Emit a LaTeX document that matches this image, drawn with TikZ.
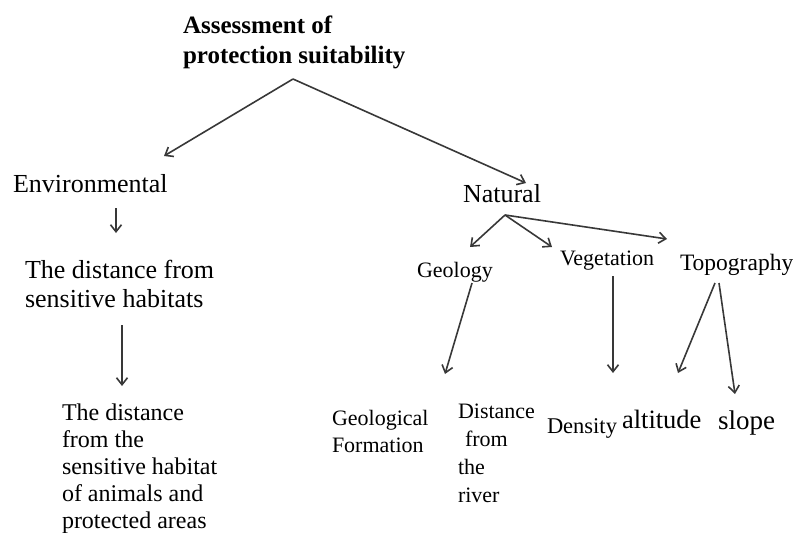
\documentclass[tikz,border=0pt]{standalone}
\usepackage{fontspec}
\setmainfont{Liberation Serif}
\usetikzlibrary{arrows.meta}
\begin{document}
\begin{tikzpicture}[x=1pt,y=-1pt,
  lbl/.style={inner sep=0pt,outer sep=0pt,anchor=base west,align=left,text=black},
  arr/.style={draw=black!78,line width=1.6pt,-{Straight Barb[length=7pt,width=11pt,line width=1.6pt]}},
  fs/.style={font=\fontsize{#1}{#1}\selectfont}]
\useasboundingbox (0,0) rectangle (793,533);
% texts (base anchor = baseline of the last line)
\node[lbl,font=\bfseries\fontsize{25}{30}\selectfont] (title) at (183,63) {Assessment of\\protection suitability};
\node[lbl,fs=26] (env) at (13,192) {Environmental};
\node[lbl,font=\fontsize{26}{29}\selectfont] (dist) at (25,307) {The distance from\\sensitive habitats};
\node[lbl,font=\fontsize{24}{27}\selectfont] (habitat) at (62,528) {The distance\\from the\\sensitive habitat\\of animals and\\protected areas};
\node[lbl,fs=26] (nat) at (463,202) {Natural};
\node[lbl,fs=22] (geo) at (417,277) {Geology};
\node[lbl,fs=22] (veg) at (560,265) {Vegetation};
\node[lbl,fs=23.5] (topo) at (680,270) {Topography};
\node[lbl,font=\fontsize{22}{27}\selectfont] (geoform) at (332,452) {Geological\\Formation};
\node[lbl,font=\fontsize{22}{27.7}\selectfont] (river) at (458,502) {Distance\\\hspace*{7pt}from\\the\\river};
\node[lbl,fs=22.5] (dens) at (547,433) {Density};
\node[lbl,fs=26.5] (alt) at (622,428) {altitude};
\node[lbl,fs=27] (slope) at (718,429) {slope};
% connector end points
\coordinate (tA) at (293,79);
\coordinate (envIn) at (164,156);
\coordinate (natIn) at (526,183);
\coordinate (envOut) at (116,208);
\coordinate (distIn) at (116,233);
\coordinate (distOut) at (122,325);
\coordinate (habIn) at (122,386);
\coordinate (natOut) at (505,215);
\coordinate (geoIn) at (470,247);
\coordinate (vegIn) at (552,247);
\coordinate (topoIn) at (667,239);
\coordinate (geoOut) at (472,283);
\coordinate (formIn) at (445,374);
\coordinate (vegOut) at (613,276);
\coordinate (densIn) at (613,373);
\coordinate (topoOutL) at (715,283);
\coordinate (topoOutR) at (719,283);
\coordinate (altIn) at (678,373);
\coordinate (slopeIn) at (735,394);
% connectors
\draw[arr] (tA) -- (envIn);
\draw[arr] (tA) -- (natIn);
\draw[arr] (envOut) -- (distIn);
\draw[arr] (distOut) -- (habIn);
\draw[arr] (natOut) -- (geoIn);
\draw[arr] (natOut) -- (vegIn);
\draw[arr] (natOut) -- (topoIn);
\draw[arr] (geoOut) -- (formIn);
\draw[arr] (vegOut) -- (densIn);
\draw[arr] (topoOutL) -- (altIn);
\draw[arr] (topoOutR) -- (slopeIn);
\end{tikzpicture}
\end{document}
